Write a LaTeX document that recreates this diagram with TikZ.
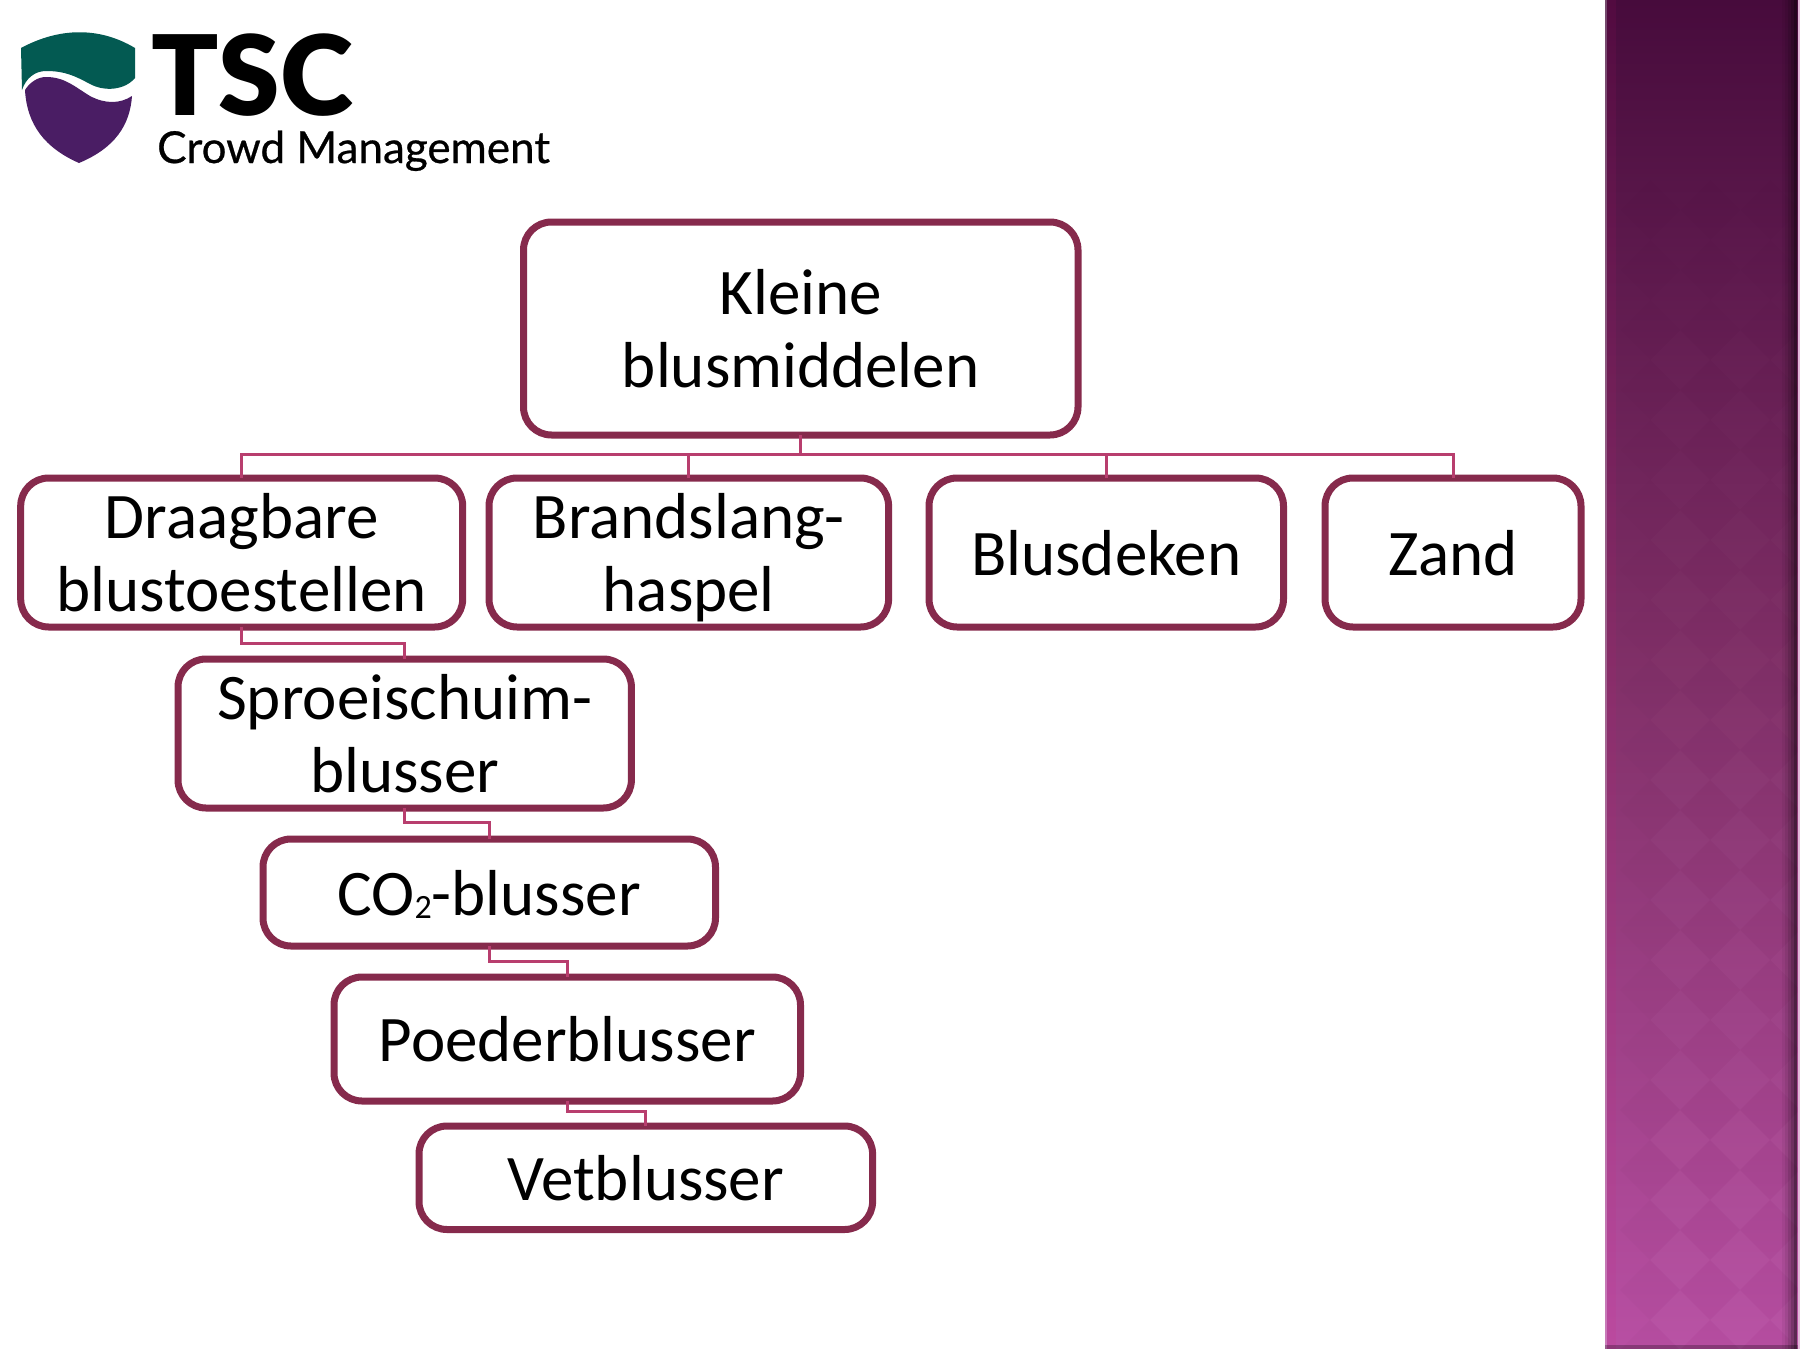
\documentclass[tikz,border=0pt]{standalone}
\usepackage{fontspec}
\setmainfont{Carlito}
\newfontfamily\logofont[BoldFont={Lato Black}]{Lato}
\newfontfamily\logotwo[FakeBold=0.6]{Lato}
\definecolor{boxc}{HTML}{862A4C}
\definecolor{linkc}{HTML}{B83E6E}
\definecolor{sidetop}{HTML}{470B3C}
\definecolor{sidemid}{HTML}{813068}
\definecolor{sidebot}{HTML}{B84FA3}
\definecolor{shgreen}{HTML}{035A52}
\definecolor{shpurple}{HTML}{4A1D64}
\tikzset{
  x=1pt,y=-1pt,
  boxn/.style={draw=boxc,line width=7pt,rounded corners=28pt,fill=white,align=center,inner sep=0pt,outer sep=0pt,
     font=\fontsize{65}{73}\selectfont,text=black,anchor=north west},
  link/.style={draw=linkc,line width=3pt},
}
\newcommand{\bx}[6]{\node[boxn,minimum width=#4pt-#2pt,minimum height=#5pt-#3pt] (#1) at (#2,#3) {#6};}
\newcommand{\sst}{\rule[-14pt]{0pt}{73pt}}
\begin{document}
\begin{tikzpicture}
\useasboundingbox (0,0) rectangle (1800,1349);
\fill[white] (0,0) rectangle (1800,1349);
% sidebar
\fill[top color=sidetop,bottom color=sidemid] (1605,0) rectangle (1800,675);
\fill[top color=sidemid,bottom color=sidebot] (1605,675) rectangle (1800,1349);
\begin{scope}
\clip (1605,0) rectangle (1800,1349);
\foreach \k in {0,...,22}{
  \pgfmathsetmacro{\yy}{60*\k}
  \pgfmathsetmacro{\oo}{0.025*\k/22}
  \foreach \xx in {1680,1740,1800}{
    \fill[white,opacity=\oo] (\xx,\yy-30) -- (\xx+30,\yy) -- (\xx,\yy+30) -- (\xx-30,\yy) -- cycle;
  }
  \foreach \xx in {1650,1710,1770}{
    \fill[black,opacity=\oo*.7] (\xx,\yy) -- (\xx+30,\yy+30) -- (\xx,\yy+60) -- (\xx-30,\yy+30) -- cycle;
  }
}
\end{scope}
% sidebar edges
\fill[white,opacity=.25] (1605,0) rectangle (1607,1349);
\fill[magenta!70!purple,opacity=.08] (1607,0) rectangle (1616,1349);
\foreach \a/\b/\o in {1782/1785/.05,1785/1788/.12,1788/1791/.22,1791/1794/.35,1794/1797/.5}{
  \fill[black,opacity=\o] (\a,0) rectangle (\b,1349);
}
\fill[sidebot!40!white] (1798,0) rectangle (1800,1349);
\fill[black,opacity=.25] (1605,1345) rectangle (1798,1349);
% boxes
\bx{root}{523.5}{222}{1078}{435}{\sst Kleine\\\sst blusmiddelen}
\bx{draag}{20.7}{478}{462.7}{627}{\sst Draagbare\\\sst blustoestellen}
\bx{brand}{489}{478}{888.6}{627}{\sst Brandslang-\\\sst haspel}
\bx{blusd}{929}{478}{1283.5}{627}{\sst Blusdeken}
\bx{zand}{1325}{478}{1581}{627}{\sst Zand}
\bx{sproei}{178}{659}{631.4}{808}{\sst Sproeischuim-\\\sst blusser}
\bx{co}{263}{839}{715.5}{946}{\sst CO\raisebox{-3pt}{\fontsize{34}{34}\selectfont 2}-blusser}
\bx{poeder}{334}{977}{800.5}{1101}{\sst Poederblusser}
\bx{vet}{419}{1126}{872.6}{1229.5}{\sst Vetblusser}
% connectors
\path (root.south) ++(0,19.5) coordinate (bus);
\draw[link] (root.south) -- (bus);
\draw[link] (draag.north) |- (bus) -| (zand.north);
\draw[link] (brand.north) |- (bus);
\draw[link] (blusd.north) |- (bus);
\draw[link] (draag.south) -- ++(0,16) -| (sproei.north);
\draw[link] (sproei.south) -- ++(0,14) -| (co.north);
\draw[link] (co.south) -- ++(0,15) -| (poeder.north);
\draw[link] (poeder.south) -- ++(0,10) -| (vet.north);
% logo
\fill[shgreen] (21,48) .. controls (60,27) and (100,27) .. (135,48) -- (135,78) .. controls (125,90) and (105,92) .. (90,84) .. controls (75,76) and (65,71) .. (46,71) .. controls (35,71) and (26,78) .. (22,90) -- cycle;
\fill[shpurple] (25,90) .. controls (30,82) and (38,77) .. (46,77) .. controls (65,77) and (75,87) .. (90,96) .. controls (105,104) and (120,104) .. (132,96) .. controls (130,125) and (115,148) .. (79,163) .. controls (45,148) and (27,125) .. (25,90) -- cycle;
\node[font=\logofont\bfseries\fontsize{111}{111}\selectfont,text=black,inner sep=0pt,anchor=base west] (tsc) at (151,115) {TSC};
\node[font=\logotwo\fontsize{44}{44}\selectfont,text=black,inner sep=0pt,anchor=base west] (cm) at (157,163) {Crowd Management};
\end{tikzpicture}
\end{document}
